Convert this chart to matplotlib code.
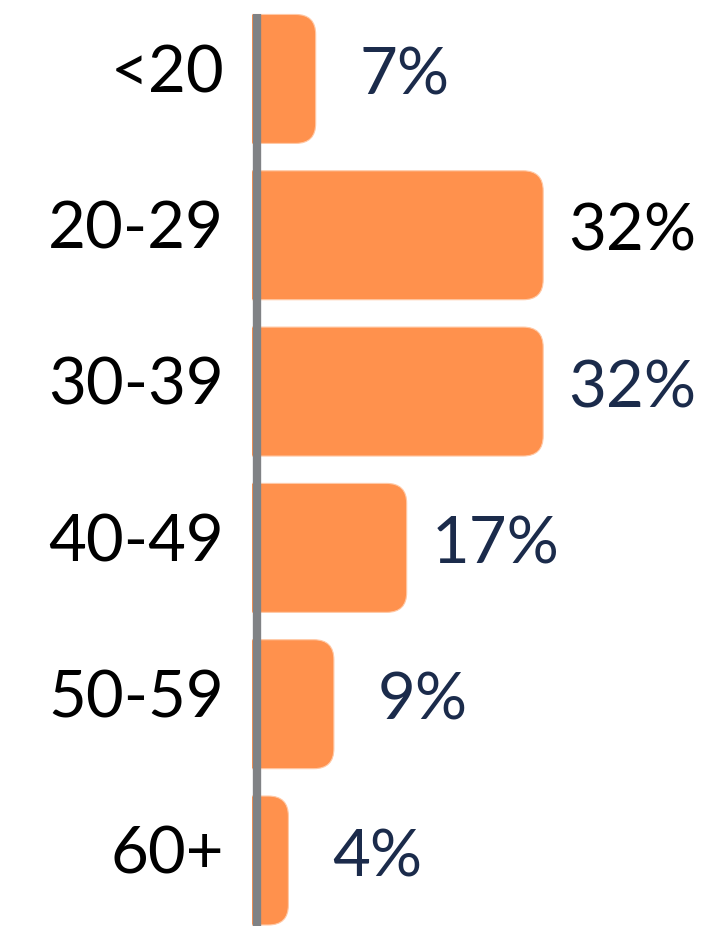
import matplotlib
matplotlib.use("Agg")
import matplotlib.pyplot as plt
import matplotlib.transforms as mtransforms
from matplotlib.patches import FancyBboxPatch

plt.rcParams['font.family'] = ['Lato', 'DejaVu Sans']

categories = ["<20", "20-29", "30-39", "40-49", "50-59", "60+"]
values = [7, 32, 32, 17, 9, 4]
label_colors = ["#1b2b4b", "#000000", "#1b2b4b", "#1b2b4b", "#1b2b4b", "#1b2b4b"]

BAR_COLOR = "#ff914d"
AXIS_COLOR = "#808285"

fig = plt.figure(figsize=(7.11, 9.26), dpi=100)
ax = fig.add_axes([252 / 711, 0, 1 - 252 / 711, 1])

x_max = (711 - 252) / 9.1
ax.set_xlim(0, x_max)
ax.set_ylim(5.419, -0.505)

px_x = 9.1
px_y = 156.3
height = 0.825
radius_px = 20
r_x = radius_px / px_x
r_y = radius_px / px_y
fs = 47

for i, v in enumerate(values):
    patch = FancyBboxPatch((-5, i - height / 2), v + 5, height,
                           boxstyle=f"round,pad=0,rounding_size={r_x}",
                           mutation_aspect=r_y / r_x,
                           facecolor=BAR_COLOR, edgecolor="#ffc9a6",
                           linewidth=0.8, zorder=2)
    ax.add_patch(patch)
    ax.text(v + 9.8, i + 0.1, f"{v}%", ha="center", va="baseline",
            fontsize=fs, color=label_colors[i], zorder=3)

# category labels, right aligned a bit left of the axis line
lbl_trans = mtransforms.blended_transform_factory(ax.transAxes, ax.transData)
lbl_trans = lbl_trans + mtransforms.ScaledTranslation(-28 / 100, 0, fig.dpi_scale_trans)
for i, c in enumerate(categories):
    ax.text(0, i + 0.085, c, ha="right", va="baseline", fontsize=fs,
            color="#000000", transform=lbl_trans)

# vertical axis line
ax.plot([0.55, 0.55], [-height / 2, 5.6], color=AXIS_COLOR, lw=6,
        solid_capstyle="butt", zorder=4, clip_on=False)

ax.set_xticks([])
ax.set_yticks([])
for s in ax.spines.values():
    s.set_visible(False)

fig.savefig("out.png", dpi=100)
